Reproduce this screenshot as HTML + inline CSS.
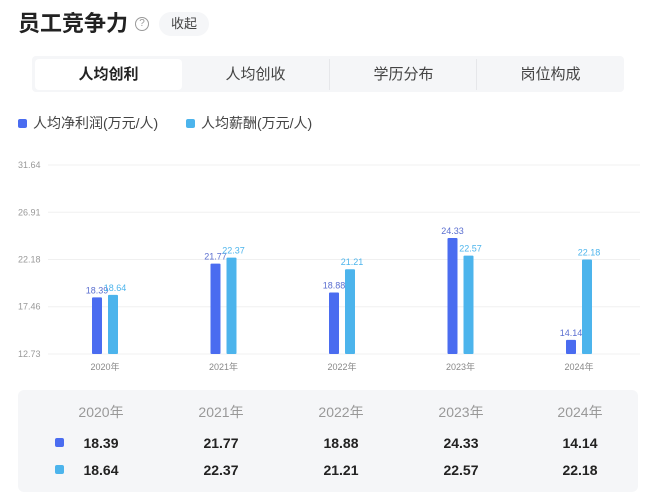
<!DOCTYPE html>
<html><head><meta charset="utf-8"><style>
body{margin:0;width:656px;height:500px;background:#fff;font-family:"Liberation Sans","Noto Sans CJK SC",sans-serif;position:relative;overflow:hidden}
.abs{position:absolute}
</style></head><body>
<div class="abs" style="left:18px;top:8px;font-size:22px;font-weight:bold;color:#222;line-height:32px">员工竞争力</div>
<div class="abs" style="left:135px;top:17px;width:12px;height:12px;border:1px solid #999;border-radius:50%;font-size:10px;color:#999;text-align:center;line-height:12px">?</div>
<div class="abs" style="left:159px;top:12px;width:50px;height:24px;background:#f5f6f8;border-radius:12px;font-size:13px;color:#444;text-align:center;line-height:24px">收起</div>
<div class="abs" style="left:32px;top:56px;width:592px;height:36px;background:#f5f6f8;border-radius:4px"></div>
<div class="abs" style="left:35px;top:59px;width:147px;height:31px;background:#fff;border-radius:4px;font-size:15px;font-weight:bold;color:#222;text-align:center;line-height:31px">人均创利</div>
<div class="abs" style="left:182px;top:59px;width:147px;height:31px;font-size:15px;color:#444;text-align:center;line-height:31px">人均创收</div>
<div class="abs" style="left:329px;top:59px;width:147px;height:31px;font-size:15px;color:#444;text-align:center;line-height:31px;border-left:1px solid #e6e7ea">学历分布</div>
<div class="abs" style="left:476px;top:59px;width:147px;height:31px;font-size:15px;color:#444;text-align:center;line-height:31px;border-left:1px solid #e6e7ea">岗位构成</div>
<div class="abs" style="left:18px;top:114px;font-size:14px;color:#444;line-height:18px"><span style="display:inline-block;width:9px;height:9px;background:#4a6cf0;border-radius:2px;margin-right:6px"></span>人均净利润(万元/人)</div>
<div class="abs" style="left:186px;top:114px;font-size:14px;color:#444;line-height:18px"><span style="display:inline-block;width:9px;height:9px;background:#4cb4ec;border-radius:2px;margin-right:6px"></span>人均薪酬(万元/人)</div>
<svg class="abs" style="left:0;top:0" width="656" height="390" id="chart"></svg>
<div class="abs" style="left:18px;top:390px;width:620px;height:102px;background:#f5f6f8;border-radius:6px" id="tbl"></div>
<script>
const categories=["2020年","2021年","2022年","2023年","2024年"];
const profit=[18.39,21.77,18.88,24.33,14.14];
const salary=[18.64,22.37,21.21,22.57,22.18];
const ticks=["12.73","17.46","22.18","26.91","31.64"];
const NS="http://www.w3.org/2000/svg";
const svg=document.getElementById('chart');
const y0=354,y1=165,vmin=12.73,vmax=31.64;
const y=v=>y0-(v-vmin)/(vmax-vmin)*(y0-y1);
const x=i=>105+i*118.5;
function mk(t,a){const e=document.createElementNS(NS,t);for(const k in a)e.setAttribute(k,a[k]);svg.appendChild(e);return e;}
ticks.forEach(t=>{const yy=y(parseFloat(t));
const l=mk('line',{x1:48,x2:640,y1:yy,y2:yy,stroke:'#f0f0f0'});


const tx=mk('text',{x:18,y:yy+3,'font-size':9,fill:'#999'});tx.textContent=t;

});
categories.forEach((c,i)=>{
const cx=x(i);
const b1=mk('rect',{x:cx-13,y:y(profit[i]),width:10,height:y0-y(profit[i]),fill:'#4a6cf0',rx:1});


const b2=mk('rect',{x:cx+3,y:y(salary[i]),width:10,height:y0-y(salary[i]),fill:'#4cb4ec',rx:1});


const t1=mk('text',{x:cx-8,y:y(profit[i])-4,'font-size':9,fill:'#5b6fd0','text-anchor':'middle'});t1.textContent=profit[i].toFixed(2);


const t2=mk('text',{x:cx+10,y:y(salary[i])-4,'font-size':9,fill:'#4cb4ec','text-anchor':'middle'});t2.textContent=salary[i].toFixed(2);


const xl=mk('text',{x:cx,y:370,'font-size':9,fill:'#888','text-anchor':'middle'});xl.textContent=c;


});
const tbl=document.getElementById('tbl');
function d(txt,l,t,st,name){const e=document.createElement('div');e.className='abs';e.style.cssText='left:'+l+'px;top:'+t+'px;'+st;e.textContent=txt;


tbl.appendChild(e);return e;}
const cols=[83,203,323,443,562];
categories.forEach((c,i)=>{
d(c,cols[i]-40,13,'width:80px;text-align:center;font-size:14px;color:#999;line-height:18px','table-header');
d(profit[i].toFixed(2),cols[i]-40,44,'width:80px;text-align:center;font-size:14px;font-weight:bold;color:#222;line-height:18px','table-profit-value');
d(salary[i].toFixed(2),cols[i]-40,71,'width:80px;text-align:center;font-size:14px;font-weight:bold;color:#222;line-height:18px','table-salary-value');
});
d('',37,48,'width:9px;height:9px;background:#4a6cf0;border-radius:2px','table-profit-swatch');
d('',37,75,'width:9px;height:9px;background:#4cb4ec;border-radius:2px','table-salary-swatch');
</script>
</body></html>
